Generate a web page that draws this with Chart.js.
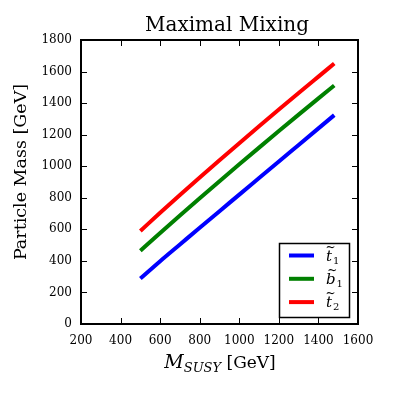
<!DOCTYPE html>
<html>
<head>
<meta charset="utf-8">
<script src="https://cdn.jsdelivr.net/npm/chart.js@4.4.1/dist/chart.umd.min.js"></script>
<style>
  html, body { margin: 0; padding: 0; background: #fff; }
  #wrap { width: 397px; height: 397px; }
</style>
</head>
<body>
<div id="wrap"><canvas id="massChart" width="397" height="397"></canvas></div>
<script>
const mSusy    = [500, 600, 700, 800, 900, 1000, 1100, 1200, 1300, 1400, 1480];
const stop1    = [288, 398, 504, 610, 715, 820, 925, 1030, 1135, 1240, 1324];
const sbottom1 = [464, 577, 688, 797, 905, 1012, 1118, 1223, 1327, 1430, 1512];
const stop2    = [590, 705, 818, 929, 1038, 1146, 1253, 1359, 1464, 1568, 1651];

const seriesNames  = [['t', '1'], ['b', '1'], ['t', '2']];
const seriesColors = ['#0000ff', '#008000', '#ff0000'];

const serif = '"DejaVu Serif", "Liberation Serif", serif';

function toPoints(ys) {
  return mSusy.map((x, i) => ({ x: x, y: ys[i] }));
}

// frame, inward ticks on all sides, titles and legend, drawn the matplotlib way
const decorations = {
  id: 'decorations',
  afterDraw(chart) {
    const ctx = chart.ctx;
    const a = chart.chartArea;
    const xs = chart.scales.x;
    const ys = chart.scales.y;
    ctx.save();

    // ticks
    ctx.strokeStyle = '#000';
    ctx.lineWidth = 1;
    const tl = 6;
    xs.ticks.forEach(t => {
      const px = Math.round(xs.getPixelForValue(t.value)) + 0.5;
      ctx.beginPath();
      ctx.moveTo(px, a.bottom); ctx.lineTo(px, a.bottom - tl);
      ctx.moveTo(px, a.top); ctx.lineTo(px, a.top + tl);
      ctx.stroke();
    });
    ys.ticks.forEach(t => {
      const py = Math.round(ys.getPixelForValue(t.value)) + 0.5;
      ctx.beginPath();
      ctx.moveTo(a.left, py); ctx.lineTo(a.left + tl, py);
      ctx.moveTo(a.right, py); ctx.lineTo(a.right - tl, py);
      ctx.stroke();
    });

    // frame
    ctx.lineWidth = 2;
    ctx.strokeRect(a.left, a.top, a.right - a.left, a.bottom - a.top);

    // title
    ctx.fillStyle = '#000';
    ctx.textAlign = 'center';
    ctx.textBaseline = 'alphabetic';
    ctx.font = '20px ' + serif;
    ctx.fillText('Maximal Mixing', 227, 31);

    // x axis title: M_SUSY [GeV]
    ctx.textAlign = 'left';
    const parts = [
      { t: 'M', f: 'italic 19px ' + serif, dy: 0 },
      { t: 'SUSY', f: 'italic 13px ' + serif, dy: 4 },
      { t: ' [GeV]', f: '17px ' + serif, dy: 0 }
    ];
    let w = 0;
    parts.forEach(p => { ctx.font = p.f; w += ctx.measureText(p.t).width; });
    let x0 = 220 - w / 2;
    parts.forEach(p => {
      ctx.font = p.f;
      ctx.fillText(p.t, x0, 368 + p.dy);
      x0 += ctx.measureText(p.t).width;
    });

    // y axis title
    ctx.save();
    ctx.translate(26, 172);
    ctx.rotate(-Math.PI / 2);
    ctx.textAlign = 'center';
    ctx.font = '17.5px ' + serif;
    ctx.fillText('Particle Mass [GeV]', 0, 0);
    ctx.restore();

    // legend
    const lx = 279.5, ly = 243.5, lw = 70, lh = 74;
    ctx.fillStyle = '#fff';
    ctx.fillRect(lx, ly, lw, lh);
    ctx.strokeStyle = '#000';
    ctx.lineWidth = 1.5;
    ctx.strokeRect(lx, ly, lw, lh);
    chart.data.datasets.forEach((ds, i) => {
      const cy = 255.5 + i * 23.3;
      ctx.strokeStyle = ds.borderColor;
      ctx.lineWidth = 4;
      ctx.beginPath();
      ctx.moveTo(289, cy); ctx.lineTo(314, cy);
      ctx.stroke();
      const nm = seriesNames[i];
      ctx.fillStyle = '#000';
      ctx.textAlign = 'left';
      ctx.font = 'italic 15px ' + serif;
      ctx.fillText(nm[0], 326, cy + 5);
      const bw = ctx.measureText(nm[0]).width;
      ctx.textAlign = 'center';
      ctx.font = '12px ' + serif;
      ctx.fillText('~', 326 + bw / 2 + 1.5, cy - 5);
      ctx.textAlign = 'left';
      ctx.font = '10px ' + serif;
      ctx.fillText(nm[1], 326 + bw + 1, cy + 8);
    });

    ctx.restore();
  }
};

new Chart(document.getElementById('massChart'), {
  type: 'line',
  data: {
    datasets: [
      { label: 't1', data: toPoints(stop1), borderColor: seriesColors[0] },
      { label: 'b1', data: toPoints(sbottom1), borderColor: seriesColors[1] },
      { label: 't2', data: toPoints(stop2), borderColor: seriesColors[2] }
    ].map(ds => Object.assign(ds, {
      borderWidth: 4,
      pointRadius: 0,
      fill: false,
      cubicInterpolationMode: 'monotone'
    }))
  },
  options: {
    responsive: false,
    animation: false,
    layout: { padding: { left: 0, top: 40, right: 39, bottom: 0 } },
    plugins: {
      legend: { display: false },
      tooltip: { enabled: false }
    },
    scales: {
      x: {
        type: 'linear',
        min: 200, max: 1600,
        grid: { display: false },
        border: { display: false },
        ticks: { stepSize: 200, padding: 2, color: '#000', maxRotation: 0,
                 autoSkip: false, font: { family: serif, size: 12 },
                 callback: v => String(v) },
        afterFit: s => { s.height = 73; }
      },
      y: {
        min: 0, max: 1800,
        grid: { display: false },
        border: { display: false },
        ticks: { stepSize: 200, padding: 1, color: '#000',
                 autoSkip: false, font: { family: serif, size: 12 },
                 callback: v => String(v) },
        afterFit: s => { s.width = 81; }
      }
    }
  },
  plugins: [decorations]
});
</script>
</body>
</html>
